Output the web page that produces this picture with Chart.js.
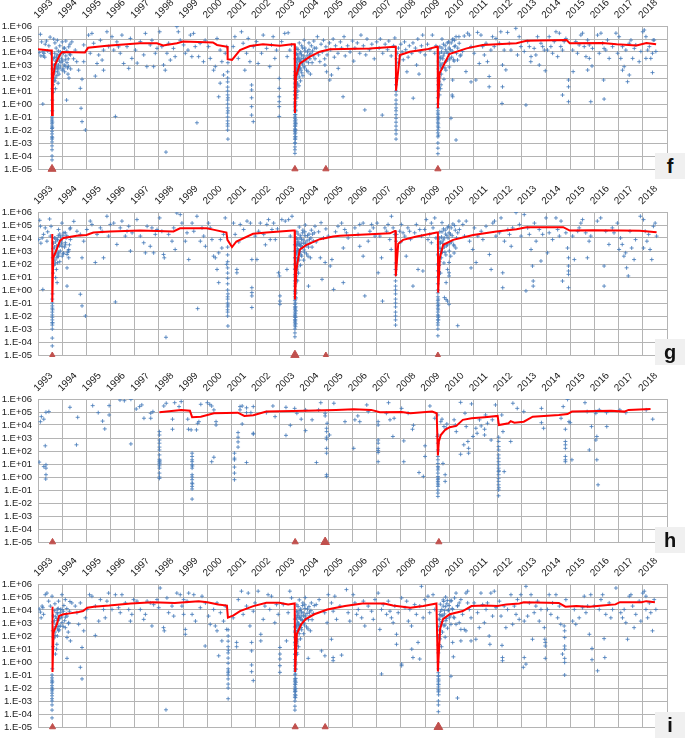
<!DOCTYPE html>
<html><head><meta charset="utf-8">
<script src="https://cdn.jsdelivr.net/npm/chart.js@4.4.1/dist/chart.umd.min.js"></script>
<style>
body{margin:0;background:#fff;width:685px;height:738px;overflow:hidden;position:relative}
canvas{position:absolute;left:0}
.tag{position:absolute;left:655px;width:30px;height:26px;background:#f0f0f0;font:bold 20px "Liberation Sans",Arial,sans-serif;text-align:center;line-height:26px;color:#111}
</style></head><body>
<canvas id="cf" width="685" height="189" style="top:-4px"></canvas>
<canvas id="cg" width="685" height="189" style="top:182px"></canvas>
<canvas id="ch" width="685" height="189" style="top:369px"></canvas>
<canvas id="ci" width="685" height="189" style="top:554px"></canvas>
<div class="tag" style="top:153px">f</div>
<div class="tag" style="top:339px">g</div>
<div class="tag" style="top:527px">h</div>
<div class="tag" style="top:712px">i</div>
<script>
const yearTicks = [1993,1994,1995,1996,1997,1998,1999,2000,2001,2002,2003,2004,2005,2006,2007,2008,2009,2010,2011,2012,2013,2014,2015,2016,2017,2018];
const decadeTicks = [1e-5,1e-4,1e-3,1e-2,1e-1,1,10,100,1e3,1e4,1e5,1e6];

// ---- panel f ----
const fLine = [[1993.0,1.6e4],[1993.5,1.3e4],[1993.57,1.3e4],[1993.58,1.4e-1],[1993.61,70],[1993.7,1e3],[1993.9,5.9e3],[1994.0,1e4],[1994.94,9.3e3],[1995.07,2.1e4],[1995.85,3e4],[1997.21,4.7e4],[1997.92,4.7e4],[1998.17,3.2e4],[1998.74,4.7e4],[1999.0,6.3e4],[2000.23,5.4e4],[2000.4,3.5e4],[2000.83,2.5e4],[2000.84,2.8e3],[2001.02,2.5e3],[2001.35,1.4e4],[2001.76,2.9e4],[2002.3,3.9e4],[2003.0,3e4],[2003.5,4e4],[2003.61,4e4],[2003.62,0.2],[2003.66,126],[2003.83,1.35e3],[2004.24,4.4e3],[2004.65,1.05e4],[2005.07,1.6e4],[2006.72,1.9e4],[2007.75,2.5e4],[2007.79,2.5e4],[2007.8,10.5],[2007.96,5.9e3],[2008.37,1.05e4],[2009.07,1.6e4],[2009.48,2.5e4],[2009.52,2.5e4],[2009.53,0.47],[2009.6,230],[2010.0,7e3],[2010.72,1.9e4],[2011.38,3.5e4],[2012.78,4.7e4],[2013.19,7.4e4],[2014.85,8.3e4],[2014.98,4.7e4],[2016.34,5e4],[2016.92,3.9e4],[2017.74,3.2e4],[2018.15,5e4],[2018.55,4e4]];
const fEvents = [1993.58,2003.62,2004.9,2009.53];
const fEventSize = [4.6,3.6,3.6,3.6];
const fPts = [[1993.1,2.3e5],[1993.15,6e4],[1993.2,1e4],[1993.22,5e3],[1993.25,8e3],[1993.2,1],[1993.3,4e4],[1993.35,7e4],[1993.4,1.2e4],[1993.45,3e4],[1993.5,1.4e5],[1993.52,8e3],[1993.05,9e3],[1993.28,4e3],[1993.12,5e3],
[1993.58,1e-1],[1993.58,7e-2],[1993.58,5e-2],[1993.58,3e-2],[1993.58,2e-2],[1993.58,1.3e-2],[1993.58,8e-3],[1993.58,5e-3],[1993.58,3e-3],[1993.58,2e-3],[1993.58,1.2e-3],[1993.58,6e-4],[1993.58,3e-4],[1993.58,1e-4],[1993.58,5e-5],[1993.59,4e-2],[1993.59,1.5e-2],[1993.59,2.5e-3],[1993.59,0.3],[1993.59,2],[1993.6,15],[1993.6,1e2],[1993.6,5e2],
[1993.62,30],[1993.63,8],[1993.65,2e2],[1993.66,5e2],[1993.68,1e3],[1993.7,3e2],[1993.7,60],[1993.72,15],[1993.73,2e3],[1993.75,8e2],[1993.76,4e3],[1993.78,1.5e2],[1993.8,6e2],[1993.82,3e3],[1993.85,1e3],[1993.87,2e2],[1993.9,5e3],[1993.92,7e2],[1993.95,1.5e3],[1994.0,4e2],[1994.02,2e3],[1994.05,8e3],[1994.08,1e3],[1994.1,3e2],[1994.15,5e3],[1994.18,2],[1994.2,1.5e3],[1994.22,6e2],[1994.25,3e3],[1994.28,1e2],[1994.3,7e3],[1994.35,5e2],[1993.65,1e5],[1993.7,5e4],[1993.75,2e4],[1993.8,8e4],[1993.9,3e4],[1994.0,6e4],[1994.1,2e4],[1994.15,7e4],[1993.68,4e3],[1993.74,1.2e3],[1993.83,40],[1993.88,6e3],[1994.12,8e2],[1994.24,2e2],
[1994.4,6e4],[1994.54,1.4e4],[1994.6,1.8e3],[1994.68,4e2],[1994.75,16],[1994.78,0.47],[1994.82,0.044],[1994.82,80],[1994.89,3.5e4],[1994.96,0.01],[1994.27,2.5e4],[1994.34,6e3],[1994.47,3e3],[1994.89,1.8e3],
[1995.09,2e5],[1995.23,2.7e5],[1995.3,4.7e4],[1995.44,1.3e3],[1995.37,1.4e2],[1995.58,8e4],[1995.71,1.4e4],[1995.71,4e2],[1995.85,3.6e5],[1995.92,2.6e4],[1995.16,8e3],[1995.51,5.9e3],[1995.65,2.4e3],
[1996.06,1.5e5],[1996.13,1.4e4],[1996.2,0.11],[1996.26,6e4],[1996.4,8e3],[1996.47,2e5],[1996.54,1.3e3],[1996.68,2.6e4],[1996.82,1.1e5],[1996.88,3.2e3],[1996.75,5.5e2],[1996.33,2.5e4],
[1997.03,1.4e4],[1997.1,1.4e3],[1997.23,6.3e4],[1997.37,6e3],[1997.5,7.5e2],[1997.64,3.5e4],[1997.71,8e4],[1997.78,7.5e2],[1997.85,8e3],[1997.92,1.9e4],[1997.44,2.7e5],
[1998.03,3.6e5],[1998.12,2.6e4],[1998.19,1e3],[1998.26,4e2],[1998.29,2e-4],[1998.33,8e3],[1998.4,4.7e4],[1998.47,2.4e3],[1998.6,1.9e4],[1998.74,9e5],[1998.8,3.6e5],[1998.88,8e4],[1998.67,4.4e3],
[1999.02,3.5e4],[1999.09,8e3],[1999.2,1.4e4],[1999.3,2e5],[1999.43,2.7e5],[1999.5,2.6e4],[1999.57,3.6e-2],[1999.64,4.4e3],[1999.7,4.7e4],[1999.84,1.8e3],[1999.91,8e4],[1999.36,4.4e3],
[2000.05,2.6e4],[2000.12,3.2e3],[2000.26,4e2],[2000.33,7.5e2],[2000.4,1.1e5],[2000.47,3.6],[2000.53,1.4e4],[2000.6,1.8e3],[2000.67,1.7e2],[2000.74,8e3],[2000.8,2.6e4],[2000.53,40],
[2000.84,3e2],[2000.84,1e2],[2000.84,50],[2000.84,20],[2000.84,10],[2000.84,5],[2000.84,2],[2000.84,1],[2000.84,0.5],[2000.84,0.2],[2000.84,0.1],[2000.84,0.05],[2000.84,0.03],[2000.84,0.02],[2000.84,0.01],[2000.85,2e-3],[2000.85,1.5e3],[2000.85,0.3],[2000.85,3],
[2001.07,2.6e4],[2001.14,1.5e5],[2001.28,3.2e3],[2001.41,3.6e5],[2001.48,4.7e4],[2001.55,4e2],[2001.62,8e3],[2001.69,1.1e5],[2001.76,1.8e3],[2001.83,29],[2001.83,12],[2001.83,0.63],[2001.83,0.14],[2001.9,0.044],[2001.9,2.6e4],[2001.83,3],
[2002.03,6.3e4],[2002.1,1.3e3],[2002.24,8e3],[2002.31,2e5],[2002.45,1.9e4],[2002.58,7.5e2],[2002.65,3.5e4],[2002.72,1.5e5],[2002.79,3.2e3],[2002.86,1.4e4],[2002.97,16],[2002.97,3.6],[2002.97,0.63],[2002.97,0.11],[2002.97,93],[2002.97,1.5],
[2003.07,6.3e4],[2003.2,2.7e5],[2003.34,3e5],[2003.41,1.4e4],[2003.3,4.4e3],[2003.48,3.5e4],
[2003.62,3e2],[2003.62,1.5e2],[2003.62,80],[2003.62,40],[2003.62,20],[2003.62,10],[2003.62,5],[2003.62,2.5],[2003.62,1.2],[2003.62,0.6],[2003.62,0.3],[2003.62,0.15],[2003.62,0.08],[2003.62,0.05],[2003.62,0.03],[2003.62,0.02],[2003.62,0.012],[2003.62,8e-3],[2003.62,5e-3],[2003.62,3e-3],[2003.62,2e-3],[2003.62,1e-3],[2003.62,5e-4],[2003.62,3e-4],[2003.62,1.6e-4],[2003.63,1e2],[2003.63,10],[2003.63,1],[2003.63,0.1],[2003.63,0.01],[2003.63,1e-3],[2003.64,8e3],[2003.65,1.5e4],[2003.64,3e3],[2003.64,0.4],[2003.64,0.04],
[2003.66,3e3],[2003.67,5e2],[2003.68,80],[2003.69,20],[2003.7,1.5e3],[2003.71,2e2],[2003.72,6e3],[2003.73,40],[2003.75,9e2],[2003.76,3e2],[2003.78,4e3],[2003.8,1.2e2],[2003.82,2e3],[2003.84,6e2],[2003.86,1e4],[2003.88,3e3],[2003.9,2.5e2],[2003.93,1.2e3],[2003.96,5e3],[2004.0,8e2],[2004.03,2e4],[2004.06,3e3],[2004.1,4e2],[2004.14,1e4],[2004.18,1.5e3],[2004.22,6e3],[2004.26,2e2],[2004.3,3e4],[2003.7,2e4],[2003.8,5e4],[2003.9,3e4],[2004.0,8e4],[2004.2,5e4],[2003.67,8],[2003.7,3],[2003.74,10],[2003.79,25],[2003.85,60],[2003.95,1.5e2],
[2005.06,70],[2005.13,1.7e2],[2005.61,3.6],[2006.51,0.35],[2007.23,0.14],[2004.65,1.8e3],[2004.93,3e2],[2004.86,1e3],[2005.41,5.5e2],
[2004.35,1.2e4],[2004.4,7e4],[2004.45,3e3],[2004.5,2e4],[2004.55,1.5e5],[2004.6,6e3],[2004.7,4e4],[2004.75,1e4],[2004.8,8e4],[2004.85,3e3],[2004.9,2.5e4],[2004.95,6e3],
[2005.05,5e4],[2005.1,1.5e4],[2005.2,1e5],[2005.25,4e3],[2005.3,3e4],[2005.4,8e3],[2005.5,6e4],[2005.55,2e4],[2005.65,1.5e5],[2005.7,5e3],[2005.8,3e4],[2005.9,1e4],
[2006.0,7e4],[2006.05,2e3],[2006.1,2e4],[2006.2,5e4],[2006.3,8e3],[2006.35,2e5],[2006.45,3e4],[2006.55,6e3],[2006.6,1e5],[2006.7,1.5e4],[2006.8,4e4],[2006.9,3e3],
[2007.0,6e4],[2007.1,2e4],[2007.15,1e5],[2007.25,8e3],[2007.35,4e4],[2007.45,1.5e4],[2007.5,7e4],[2007.6,5e3],[2007.7,3e4],[2007.75,1.2e5],
[2007.8,30],[2007.8,10],[2007.8,5],[2007.8,2],[2007.8,1],[2007.8,0.5],[2007.8,0.3],[2007.8,0.15],[2007.8,0.08],[2007.8,0.04],[2007.8,0.02],[2007.8,0.01],[2007.8,5e-3],[2007.8,2e-3],[2007.81,1e2],
[2007.82,3e3],[2007.85,8e3],[2007.88,1.5e3],[2007.9,2e4],[2007.95,5e3],[2008.0,4e4],[2008.05,1e4],[2008.1,2.5e3],[2008.15,6e4],[2008.2,1.5e4],[2008.3,4e3],[2008.35,3e4],[2008.51,2.8],[2008.45,8e3],[2008.5,5e4],[2008.6,2e4],[2008.65,1e3],[2008.7,1e5],[2008.8,1e4],[2008.85,3e4],[2008.9,2e5],[2009.0,6e3],[2009.1,4e4],[2009.2,1.5e4],[2009.3,2e5],[2009.4,8e3],[2009.45,3e4],[2008.25,3e2],[2008.75,2e2],
[2009.53,3],[2009.53,1],[2009.53,0.5],[2009.53,0.3],[2009.53,0.2],[2009.53,0.1],[2009.53,0.06],[2009.53,0.04],[2009.53,0.02],[2009.53,0.01],[2009.53,6e-3],[2009.53,3e-3],[2009.53,1e-3],[2009.53,4e-4],[2009.53,1.5e-4],[2009.54,10],[2009.54,30],[2009.54,1e2],[2009.54,0.15],[2009.54,0.03],
[2009.56,2e3],[2009.57,3e2],[2009.58,50],[2009.6,8e3],[2009.62,1e3],[2009.64,15],[2009.65,4e3],[2009.67,2e2],[2009.7,2e4],[2009.72,6e2],[2009.75,5e3],[2009.78,80],[2009.8,1.5e3],[2009.83,3e4],[2009.86,4e2],[2009.9,1e4],[2009.93,2.5e3],[2009.97,6e4],[2010.0,7e2],[2010.05,1.5e4],[2010.1,4e3],[2010.15,1e5],[2010.2,2e3],[2010.25,3e4],[2010.3,8e3],[2010.4,1.5e5],[2010.45,5e3],[2009.7,1e5],[2010.28,1.7e-3],[2010.07,0.08],[2010.14,3.6],[2010.12,4.9],[2010.14,70],[2009.6,5],[2009.66,30],
[2010.9,50],[2011.1,70],[2011.65,1.3e2],[2011.65,21],[2012.2,21],[2012.18,1.1],[2013.17,0.83],[2013.97,3.6e2],[2014.68,4.9],[2014.93,70],[2014.93,21],[2014.93,1.5],[2015.12,3.1e2],[2015.72,4.1e2],[2015.85,1.5],[2015.9,8.3e2],[2016.38,70],[2016.4,2.4],[2017.16,4e2],[2017.37,52],[2017.44,1.7e2],[2018.4,2.6e2],
[2010.28,1.5e5],[2010.41,4.7e4],[2010.62,1.7e5],[2010.76,2.8e5],[2010.83,2e5],[2010.55,1.1e4],[2010.34,2.4e3],[2010.69,3.1e2],[2010.9,2.6e4],[2010.48,5.9e3],[2010.14,8.3e4],[2010.21,2.6e4],
[2011.17,3.2e5],[2011.31,2e5],[2011.38,2.6e4],[2011.45,5.9e3],[2011.52,4.7e4],[2011.58,1.8e3],[2011.72,1.4e4],[2011.79,1.5e5],[2011.86,2.6e4],[2011.03,8e3],[2011.24,1.3e3],[2011.93,1.1e5],
[2012.13,3.6e5],[2012.27,1.4e4],[2012.41,3.2e5],[2012.48,4.7e4],[2012.55,1.4e4],[2012.75,6.6e5],[2012.82,5.9e3],[2012.89,1.5e5],[2012.2,1e3],[2012.34,4.2e2],[2012.07,4.7e4],[2012.96,2.6e4],
[2013.1,1.1e4],[2013.24,6.3e4],[2013.31,2.6e4],[2013.37,1.8e3],[2013.51,1.9e4],[2013.58,5.9e3],[2013.65,1.5e5],[2013.72,1e3],[2013.79,4.7e4],[2013.93,1.4e4],[2013.38,4.4e3],[2013.86,2.6e4],
[2014.06,1.4e4],[2014.13,1.5e5],[2014.2,2.6e4],[2014.34,6.3e4],[2014.41,3.6e5],[2014.48,4.4e3],[2014.55,2.8e5],[2014.61,2.6e4],[2014.75,6.3e4],[2014.68,1.4e4],[2014.27,8e3],[2014.82,1.1e5],
[2015.1,1.4e4],[2015.23,6.3e4],[2015.37,3.5e4],[2015.44,2e5],[2015.51,2.8e5],[2015.58,2.6e4],[2015.65,4.4e3],[2015.79,3.2e3],[2015.79,3.5e4],[2015.92,1.9e4],[2015.3,8e3],[2015.72,8.3e4],
[2016.13,2e5],[2016.27,2.8e5],[2016.34,4.7e4],[2016.47,1.4e4],[2016.61,3.2e3],[2016.75,2.6e4],[2016.89,2.8e5],[2016.96,8e3],[2016.2,8e3],[2016.54,8.3e4],[2016.4,1.9e4],
[2017.09,3.2e3],[2017.16,2.6e4],[2017.23,7.4e2],[2017.3,1.4e4],[2017.44,4.7e4],[2017.51,8.3e4],[2017.58,3.2e3],[2017.65,1.9e4],[2017.71,3.5e4],[2017.92,1.1e4],[2017.85,1.8e3],[2017.02,1.5e5],
[2018.0,3.6e5],[2018.06,4.9e5],[2018.13,1.5e5],[2018.2,1.4e4],[2018.27,2.6e4],[2018.33,3.2e3],[2018.4,8e3],[2018.47,8.3e4],[2018.54,1.1e4],[2018.43,8.3e4],[2018.13,3.2e3]];
// extra points in the dense after-shock clouds of panel f
const fDense = [[2003.65,50],[2003.66,1.2e2],[2003.67,2e3],[2003.68,4e2],[2003.69,7e3],[2003.7,6e2],[2003.71,30],[2003.72,1e3],[2003.73,3e3],[2003.74,2e2],[2003.75,1.5e4],[2003.77,7e2],[2003.79,2.5e3],[2003.81,5e2],[2003.83,8e3],[2003.85,1.8e3],[2003.87,4e2],[2003.89,6e3],[2003.91,1.5e3],[2003.94,2e4],[2003.97,3e3],[2004.01,6e2],[2004.04,1.2e4],[2004.08,2e3],[2004.12,5e3],[2004.16,3e2],[2004.2,1.5e4],[2004.24,3e3],[2004.28,8e3],[2004.33,1.5e3],[2004.38,5e3],[2004.42,2e4],[2003.66,15],[2003.69,5],
[2003.64,2e2],[2003.64,30],[2003.64,5],[2003.64,1.5],[2003.64,0.15],[2003.64,0.02],[2003.64,6e-3],[2003.64,2e-3],[2003.65,0.8],[2003.65,0.06],[2003.65,0.01],[2003.65,3e-3],[2003.66,0.3],[2003.66,0.03],
[2009.55,5e2],[2009.56,60],[2009.57,1.5e3],[2009.58,4e3],[2009.59,2e2],[2009.61,2.5e4],[2009.63,3e3],[2009.65,7e2],[2009.68,1e4],[2009.7,1.2e3],[2009.73,3e3],[2009.76,4e4],[2009.79,8e3],[2009.82,6e2],[2009.85,1.5e4],[2009.88,2e3],[2009.92,5e4],[2009.95,8e3],[2009.99,2e4],[2010.03,3e3],[2010.08,5e4],[2010.12,1.2e4],[2010.18,2.5e3],[2010.22,8e4],[2010.35,2e4],[2009.57,20],[2009.6,120],[2009.55,0.08],[2009.55,0.015],[2009.55,4e-3],
[1993.61,2e2],[1993.62,1e3],[1993.64,3e3],[1993.66,60],[1993.69,8e3],[1993.71,1e2],[1993.74,5e2],[1993.77,2e3],[1993.79,6e3],[1993.81,3e2],[1993.84,1.2e4],[1993.86,5e2],[1993.89,2e3],[1993.93,1e4],[1993.97,3e3],[1994.04,5e2],[1994.07,2e4],[1994.13,2.5e3],[1994.19,1.2e4],[1994.26,8e2],[1994.32,4e4]];

// ---- panel g ----
const gLine = [[1993.59,2e4],[1993.59,0.12],[1993.63,290],[1993.77,1.26e3],[1993.91,6.3e3],[1994.05,1e4],[1994.6,1.5e4],[1995.0,1.7e4],[1995.29,2.6e4],[1995.98,3.2e4],[1997.22,3.7e4],[1998.6,3.2e4],[1998.87,5.6e4],[1999.97,5.6e4],[2000.24,4.4e4],[2000.79,2.6e4],[2000.83,7.2e3],[2001.02,2e3],[2001.2,5.4e3],[2001.89,2.1e4],[2002.44,2.6e4],[2002.99,3.2e4],[2003.54,3.7e4],[2003.61,3.7e4],[2003.62,0.19],[2003.68,37],[2003.82,1.26e3],[2004.1,3e3],[2004.65,8.1e3],[2005.2,1.3e4],[2005.48,1.5e4],[2007.55,2.3e4],[2007.75,3.5e4],[2007.78,3.5e4],[2007.79,11.5],[2007.89,3.6e3],[2008.09,7.2e3],[2008.65,1.3e4],[2009.48,2.6e4],[2009.53,2.6e4],[2009.54,0.63],[2009.61,290],[2009.75,3e3],[2010.16,7.2e3],[2010.99,1.7e4],[2011.95,3.2e4],[2012.78,4.8e4],[2013.19,6.8e4],[2014.71,6.8e4],[2014.98,3.7e4],[2015.95,4e4],[2017.05,3.7e4],[2017.88,3.6e4],[2018.57,2.8e4]];
const gEvents = [1993.59,2003.62,2004.9,2009.53];
const gEventSize = [3,4.8,3,3];
const gPts = [[1993.07,2.3e5],[1993.03,7.6e3],[1993.17,1e4],[1993.2,1.1],[1993.3,6e4],[1993.37,5.7e3],[1993.48,2.9e5],[1993.51,1.4e4],[1993.54,7.9e4],[1993.1,8e4],[1993.23,1.9e4],[1993.12,4e3],[1993.4,3e4],
[1993.59,0.2],[1993.59,0.1],[1993.59,0.06],[1993.59,0.04],[1993.59,0.02],[1993.59,0.012],[1993.59,8e-3],[1993.59,5e-3],[1993.59,3e-3],[1993.59,2e-3],[1993.59,1e-3],[1993.59,2e-4],[1993.59,5e-5],[1993.6,0.5],[1993.6,3e-3],[1993.6,0.03],
[1993.79,3.7],[1993.73,9],[1993.76,38],[1993.81,1.25e2],[1993.85,4e2],[1993.92,1e3],[1993.99,2.3e3],[1994.06,7e2],[1994.13,4.3e3],[1994.2,5.4e2],[1994.27,1.3e3],[1994.34,7.6e3],[1994.2,50],[1994.2,2],[1994.27,3e2],[1993.85,4.5e4],[1993.99,1.4e5],[1994.13,2.5e4],[1994.34,6e4],[1994.48,1.9e5],
[1993.62,20],[1993.64,1e2],[1993.66,6e2],[1993.68,2e3],[1993.7,2e2],[1993.72,5e3],[1993.75,1.2e3],[1993.78,3e2],[1993.8,8e3],[1993.83,8e2],[1993.87,3e3],[1993.9,1.5e2],[1993.95,6e3],[1994.0,4e2],[1994.03,1.5e4],[1994.1,2e3],[1994.16,1e4],[1994.23,8e2],[1994.3,3e3],[1993.7,1e4],[1993.9,2e4],
[1994.61,3.3e4],[1994.75,1.9e4],[1994.82,3e2],[1994.82,0.06],[1994.96,0.01],[1994.75,0.47],[1994.89,5.7e3],[1995.02,4.5e4],[1995.16,2e5],[1995.23,1.1e5],[1995.37,1.3e2],[1995.44,1.9e4],[1995.58,6e4],[1995.65,3.3e4],[1995.71,3e2],[1995.85,4.7e5],[1995.92,1.4e4],[1995.99,1.1e5],
[1996.13,1.4e5],[1996.2,0.12],[1996.26,3.2e3],[1996.4,6e4],[1996.47,2e5],[1996.61,1.4e4],[1996.68,3.3e4],[1996.82,1e3],[1996.89,2.5e4],[1996.75,8e4],
[1997.09,2.6e5],[1997.23,1.4e4],[1997.37,4.3e3],[1997.51,8e4],[1997.64,2.3e3],[1997.71,6e4],[1997.78,7.2e2],[1997.85,1.9e4],[1997.92,4.5e4],[1997.44,7.2e2],
[1998.03,3.5e5],[1998.12,3.3e4],[1998.19,5.4e2],[1998.22,3e2],[1998.29,2.3e-4],[1998.4,1.9e4],[1998.54,5.7e3],[1998.61,6e4],[1998.74,8.3e5],[1998.88,6.3e5],[1998.95,1.4e5],[1998.67,1.3e3],
[1999.09,5.7e3],[1999.16,2.5e4],[1999.23,2.2e2],[1999.37,1.4e5],[1999.44,3.3e4],[1999.57,4.7e5],[1999.6,0.037],[1999.71,5.7e3],[1999.85,1.4e4],[1999.92,2.3e3],[1999.78,6e4],
[2000.05,1.4e5],[2000.12,6e4],[2000.19,7.6e3],[2000.26,4e2],[2000.33,3e2],[2000.4,38],[2000.47,3.7],[2000.54,7.6e3],[2000.6,1.7e3],[2000.67,1.9e4],[2000.74,3.5e5],[2000.8,93],[2000.47,7.2e2],
[2000.84,2e3],[2000.84,5e2],[2000.84,1.5e2],[2000.84,50],[2000.84,20],[2000.84,8],[2000.84,3],[2000.84,1],[2000.84,0.3],[2000.84,0.2],[2000.84,0.1],[2000.84,0.05],[2000.84,0.03],[2000.84,0.02],[2000.84,0.01],[2000.85,1.7e-3],[2000.85,0.07],[2000.85,0.5],
[2001.08,1.4e5],[2001.15,1.9e4],[2001.22,38],[2001.22,21],[2001.36,1.1e5],[2001.5,4.5e4],[2001.64,2e5],[2001.78,1.4e5],[2001.84,2.2e2],[2001.84,1.5],[2001.84,0.35],[2001.84,0.045],[2001.84,0.63],[2001.98,1.4e4],[2002.05,2.2e2],[2002.12,3.3e4],[2002.19,1.4e5],[2002.33,1.9e4],[2002.46,1.1e5],[2002.53,2.6e5],[2002.6,7.6e3],[2002.67,4.5e4],[2002.74,1.4e5],[2002.81,7.6e3],[2002.94,21],[2002.98,12],[2003.0,0.35],[2003.0,0.14],[2003.0,0.08],[2003.08,2.6e5],[2003.22,2e5],[2003.29,38],[2003.36,2.6e5],[2003.5,4.7e5],[2003.43,1.4e4],[2001.3,5e3],[2002.4,3e3],[2002.9,5e4],
[2003.62,3e3],[2003.62,1e3],[2003.62,3e2],[2003.62,1e2],[2003.62,40],[2003.62,15],[2003.62,5],[2003.62,2],[2003.62,0.8],[2003.62,0.3],[2003.62,0.15],[2003.62,0.08],[2003.62,0.05],[2003.62,0.03],[2003.62,0.02],[2003.62,0.012],[2003.62,8e-3],[2003.62,5e-3],[2003.62,3e-3],[2003.62,2e-3],[2003.62,1e-3],[2003.62,5e-4],[2003.62,2.5e-4],[2003.63,0.5],[2003.63,0.04],[2003.63,4e-3],[2003.63,1e-2],[2003.64,10],[2003.64,0.2],
[2003.66,5e3],[2003.67,8e2],[2003.68,1.2e2],[2003.69,30],[2003.7,2.5e3],[2003.71,3e2],[2003.72,8e3],[2003.73,60],[2003.75,1.2e3],[2003.76,5e2],[2003.78,5e3],[2003.8,2e2],[2003.82,3e3],[2003.84,9e2],[2003.86,1.5e4],[2003.88,4e3],[2003.9,4e2],[2003.93,2e3],[2003.96,7e3],[2004.0,1.2e3],[2004.03,3e4],[2004.06,4e3],[2004.1,6e2],[2004.14,1.5e4],[2004.18,2e3],[2004.22,8e3],[2004.26,3e2],[2004.3,4e4],[2003.7,3e4],[2003.8,7e4],[2003.95,4e4],[2004.05,1e5],[2004.18,2],[2004.67,3e2],[2004.74,6.6],[2004.87,1.3e2],[2005.08,70],[2005.22,1.1],[2005.15,2.2e2],[2005.0,1.4e4],[2003.68,12],[2003.72,5],[2003.77,20],[2003.85,80],[2003.98,2e2],
[2004.35,2e4],[2004.45,8e4],[2004.5,5e3],[2004.6,3e4],[2004.7,1.5e5],[2004.8,1e4],[2004.9,5e4],[2005.3,3e4],[2005.4,8e4],[2005.55,1.4e5],[2005.62,1.7e3],[2005.68,4.5e4],[2005.62,3.7],[2005.75,2.5e4],[2005.82,1e4],
[2006.1,6e4],[2006.23,1.9e4],[2006.3,1.1e5],[2006.44,1.4e5],[2006.51,0.35],[2006.65,5.7e3],[2006.72,3.3e4],[2006.86,6e4],[2006.93,1.4e4],[2006.44,4e2],[2006.3,2.3e3],[2006.79,1.1e5],
[2007.02,1.4e5],[2007.06,21],[2007.13,1.4e4],[2007.2,3e2],[2007.24,0.14],[2007.34,6e4],[2007.41,3.3e4],[2007.47,1.1e5],[2007.54,7.6e3],[2007.6,1.3e3],[2007.61,4.7e5],[2007.68,6e4],[2007.75,1.9e4],
[2007.78,38],[2007.78,15],[2007.78,5],[2007.78,2],[2007.78,1],[2007.78,0.5],[2007.78,0.2],[2007.78,0.1],[2007.78,0.05],[2007.78,0.02],[2007.78,0.01],[2007.78,5e-3],[2007.78,2e-3],[2007.8,5.7e3],[2007.82,1.9e4],[2007.79,1.2e2],
[2007.95,3.3e4],[2008.02,1.1e5],[2008.09,2.5e4],[2008.16,1.4e4],[2008.22,4e2],[2008.29,6e4],[2008.36,3.3e4],[2008.5,2],[2008.57,2.5e4],[2008.64,1.1e5],[2008.71,38],[2008.78,4.5e4],[2008.85,1.4e4],[2008.91,29],[2008.98,4.5e4],[2009.05,2.6e5],[2009.12,7.6e3],[2009.19,1.9e4],[2009.26,4.3e3],[2009.4,3.5e5],[2009.33,6e4],[2009.26,1.4e5],[2008.0,5e3],[2008.4,8e3],[2009.45,1e4],
[2009.53,5e2],[2009.53,1e2],[2009.53,30],[2009.53,10],[2009.53,3],[2009.53,1],[2009.53,0.6],[2009.53,0.3],[2009.53,0.15],[2009.53,0.1],[2009.53,0.06],[2009.53,0.04],[2009.53,0.02],[2009.53,0.012],[2009.53,5e-3],[2009.53,3e-3],[2009.53,2e-3],[2009.53,1e-3],[2009.53,3e-4],[2009.54,0.2],[2009.54,0.03],[2009.54,8e-3],
[2009.56,3e3],[2009.57,4e2],[2009.58,80],[2009.6,1e4],[2009.62,1.5e3],[2009.64,20],[2009.65,5e3],[2009.67,3e2],[2009.7,3e4],[2009.72,8e2],[2009.75,7e3],[2009.78,1.2e2],[2009.8,2e3],[2009.83,4e4],[2009.86,5e2],[2009.9,1.5e4],[2009.93,3e3],[2009.97,8e4],[2010.0,1e3],[2010.05,2e4],[2010.1,5e3],[2010.15,1.2e5],[2010.2,2.5e3],[2010.25,4e4],[2010.3,1e4],[2010.4,2e5],[2009.8,0.26],[2009.87,0.19],[2009.93,0.14],[2009.99,0.08],[2009.87,3.7],[2009.93,38],[2009.99,21],[2009.99,12],[2010.35,1.8e-3],[2009.99,1.3e2],[2010.06,4e2],[2010.2,7e2],[2010.27,1.7e3],[2009.7,1.5e5],
[2010.42,4.5e4],[2010.56,1.1e5],[2010.63,1.4e4],[2010.7,2e5],[2010.84,5.7e3],[2010.9,50],[2010.97,1.3e3],[2011.04,6e4],[2011.11,1.3e2],[2011.18,1.4e4],[2011.32,3.3e4],[2011.39,7.6e3],[2011.52,8e4],[2011.66,5.4e2],[2011.73,38],[2011.8,1.4e5],[2011.87,2e5],[2011.93,1.4e4],
[2012.07,2.5e4],[2012.14,3.5e5],[2012.21,21],[2012.21,1.5],[2012.28,5.7e3],[2012.42,4.5e4],[2012.49,1.9e4],[2012.56,2.3e3],[2012.62,6e4],[2012.76,9e5],[2012.9,1.1e5],[2012.97,1.4e4],
[2013.1,6.3e5],[2013.17,0.85],[2013.24,6e4],[2013.31,1.9e4],[2013.38,1.3e3],[2013.44,70],[2013.47,4.9],[2013.47,2],[2013.52,1.4e5],[2013.59,5.7e3],[2013.72,4.5e4],[2013.79,1.7e2],[2013.86,1.9e4],[2014.0,3.5e5],
[2014.06,7.2e2],[2014.13,2.5e4],[2014.27,7.6e3],[2014.41,3.5e5],[2014.48,4.5e4],[2014.55,1.4e4],[2014.62,2e5],[2014.68,4.9],[2014.82,2.5e4],[2014.89,1.7e3],[2014.93,3e2],[2014.93,70],[2014.93,29],[2014.93,16],[2014.93,1.5],
[2015.1,1.4e4],[2015.17,2.2e2],[2015.31,3.3e4],[2015.37,6e4],[2015.44,1.4e5],[2015.51,2.6e5],[2015.71,3e2],[2015.78,5.7e3],[2015.85,1.4e4],[2015.64,2.5e4],
[2016.12,2e5],[2016.26,3.5e5],[2016.4,70],[2016.4,2],[2016.47,3.3e4],[2016.6,3.2e3],[2016.74,6e4],[2016.81,2.5e4],
[2016.95,1.4e5],[2017.08,1e4],[2017.15,3.2e3],[2017.22,4e2],[2017.29,7.2e2],[2017.33,51],[2017.4,12],[2017.47,3.3e4],[2017.54,1.7e3],[2017.64,2.2e2],[2017.7,7.6e3],[2017.02,1.3e3],
[2017.9,4.7e5],[2018.03,2.6e5],[2018.1,3.3e4],[2018.17,5.7e3],[2018.24,1.9e4],[2018.37,2.2e2],[2018.44,8e4],[2018.51,1.4e5],[2018.57,1.4e4],[2018.03,1.7e3],[2018.3,1.3e3]];
const gDense = [[2003.65,80],[2003.66,2e2],[2003.67,3e3],[2003.68,6e2],[2003.69,1e4],[2003.7,9e2],[2003.71,40],[2003.72,1.5e3],[2003.73,4e3],[2003.74,3e2],[2003.75,2e4],[2003.77,1e3],[2003.79,3e3],[2003.81,7e2],[2003.83,1e4],[2003.85,2.5e3],[2003.87,5e2],[2003.89,8e3],[2003.91,2e3],[2003.94,2.5e4],[2003.97,4e3],[2004.01,8e2],[2004.04,1.5e4],[2004.08,2.5e3],[2004.12,6e3],[2004.16,4e2],[2004.2,2e4],[2004.24,4e3],[2004.28,1e4],[2004.33,2e3],[2004.38,6e3],[2004.42,2.5e4],[2003.66,20],[2003.69,6],
[2003.64,3e2],[2003.64,40],[2003.64,3],[2003.64,1],[2003.64,0.1],[2003.64,0.015],[2003.64,5e-3],[2003.64,1.5e-3],[2003.65,0.6],[2003.65,0.05],[2003.65,8e-3],[2003.65,2.5e-3],[2003.66,0.25],[2003.66,0.025],
[2009.55,6e2],[2009.56,80],[2009.57,2e3],[2009.58,5e3],[2009.59,3e2],[2009.61,3e4],[2009.63,4e3],[2009.65,9e2],[2009.68,1.2e4],[2009.7,1.5e3],[2009.73,4e3],[2009.76,5e4],[2009.79,1e4],[2009.82,8e2],[2009.85,2e4],[2009.88,2.5e3],[2009.92,6e4],[2009.95,1e4],[2009.99,2.5e4],[2010.03,4e3],[2010.08,6e4],[2010.12,1.5e4],[2010.18,3e3],[2010.22,9e4],[2010.35,2.5e4],[2009.57,25],[2009.6,150],[2009.55,0.07],[2009.55,0.01],[2009.55,5e-3],
[1993.61,3e2],[1993.62,1.5e3],[1993.64,4e3],[1993.66,80],[1993.69,1e4],[1993.71,1.2e2],[1993.74,6e2],[1993.77,2.5e3],[1993.79,7e3],[1993.81,4e2],[1993.84,1.5e4],[1993.86,6e2],[1993.89,2.5e3],[1993.93,1.2e4],[1993.97,4e3],[1994.04,6e2],[1994.07,2.5e4],[1994.13,3e3],[1994.19,1.5e4],[1994.26,1e3],[1994.32,5e4]];

// ---- panel h ----
const hLine = [[1998.02,9.5e4],[1998.92,1.45e5],[1999.28,1.26e5],[1999.37,4e4],[1999.73,4.4e4],[2000.27,8e4],[2001.26,8.9e4],[2001.53,5e4],[2001.9,5.6e4],[2002.44,1.07e5],[2004.06,1.26e5],[2005.32,1.45e5],[2006.05,1.6e5],[2006.77,1.45e5],[2007.13,9.5e4],[2008.03,1e5],[2008.39,8e4],[2009.29,1.07e5],[2009.48,8e4],[2009.53,45],[2009.57,540],[2009.65,1.7e3],[2009.83,4.2e3],[2010.02,6.8e3],[2010.29,8.5e3],[2010.56,2.5e4],[2010.92,3.3e4],[2011.46,4e4],[2012.0,5e4],[2012.05,1e4],[2012.45,1.35e4],[2012.54,2e4],[2012.69,1.5e4],[2013.08,1.8e4],[2013.45,4.4e4],[2014.53,5.9e4],[2014.89,7e4],[2015.07,1.07e5],[2016.69,1.26e5],[2017.24,1.07e5],[2017.41,1.45e5],[2018.32,1.7e5]];
const hEvents = [1993.6,2003.63,2004.87,2009.57];
const hEventSize = [3.6,3.6,5,3.6];
const hPts = [[1993.05,14],[1993.14,4.4e4],[1993.1,1.8e4],[1993.24,2.8e4],[1993.33,9.5e4],[1993.45,1.07e5],[1993.3,2.5e2],[1993.33,8.7],[1993.33,4.8],[1993.33,1.5],[1993.32,0.7],[1993.24,6.3],
[1994.32,2.3e5],[1994.64,3.9e4],[1994.59,3e2],[1995.26,3.1e5],[1995.49,8.9e4],[1995.67,2e4],[1995.76,5e3],
[1995.94,3.1e5],[1995.94,5.9e4],[1996.39,8.3e5],[1996.57,7.4e5],[1996.84,9.5e5],[1996.84,3.5e2],
[1997.06,1.7e5],[1997.2,2.6e5],[1997.29,3.5e5],[1997.38,3.3e4],[1997.66,3.3e4],[1997.66,8e4],[1997.75,1.07e5],
[1998.02,3.1e3],[1998.02,1.7e3],[1998.02,7e2],[1998.02,4e2],[1998.02,2e2],[1998.02,1.2e2],[1998.02,50],[1998.02,23],[1998.02,15],[1998.02,10],[1998.02,7.2],[1998.02,4.8],[1998.02,2],[1998.02,1],[1998.02,0.78],[1998.03,18],[1998.03,12],
[1998.2,2.9e5],[1998.3,4.7e5],[1998.56,2.8e4],[1998.56,4.7e3],[1998.65,5.2e5],[1998.92,6.3e5],[1998.83,2.6e5],
[1999.37,68],[1999.37,38],[1999.37,21],[1999.37,15],[1999.37,8.7],[1999.37,4.8],[1999.37,1.5],[1999.37,1],[1999.37,0.62],[1999.37,0.34],[1999.37,0.19],[1999.37,0.12],[1999.37,0.02],[1999.38,7],[1999.38,0.3],
[1999.19,2.8e4],[1999.22,4.7e3],[1999.33,4.2e3],[1999.55,4.2e3],[1999.6,1.35e4],[1999.65,1.8e4],
[1999.73,3.9e5],[2000.0,5.2e5],[2000.1,3.9e5],[2000.18,2.9e5],[2000.27,1.45e5],[2000.36,1.8e4],[2000.36,1e4],[2000.27,33],[2000.18,15],
[2001.12,68],[2001.12,28],[2001.12,21],[2001.12,5.8],[2001.12,2],[2001.12,0.62],[2001.27,2.6e3],[2001.27,1.15e3],[2001.27,5e2],[2001.27,2e2],[2001.35,1.45e5],[2001.35,2.6e5],[2001.44,2.9e5],[2001.44,1.2e4],[2001.62,2.1e5],[2001.62,8.9e4],[2001.62,13],[2001.9,2.3e3],[2001.9,2e3],[2001.9,2.6e5],[2001.8,8.9e4],
[2002.71,2.9e5],[2002.8,4.4e4],[2002.44,8.9e4],
[2003.25,2.3e5],[2003.43,9.5e3],[2003.25,1.6e3],[2003.61,1.9e5],[2003.7,8e4],[2003.88,2.8e4],[2004.06,3.7e3],[2004.06,1.45e5],[2004.33,2.5e4],
[2004.51,13],[2004.69,5.2e5],[2004.6,1.45e5],[2004.87,8e4],[2004.87,5e4],
[2004.93,5.6e3],[2004.93,3.1e3],[2004.93,1.15e3],[2004.93,8e2],[2004.93,1.6e2],[2004.93,68],[2004.93,1.5],[2004.93,1.1],[2005.05,1.7e3],[2004.95,1.35e4],
[2005.23,4.7e5],[2005.69,1.8e4],[2006.1,2.5e4],[2006.05,1.6e2],[2006.22,5e4],[2006.3,1.8e4],[2006.59,3.5e5],[2006.65,1.07e5],
[2007.06,7e2],[2007.06,4e2],[2007.06,1.6e2],[2007.06,1.1e2],[2007.06,76],[2007.06,15],[2007.06,1e4],[2007.06,1.8e4],
[2007.49,5.2e5],[2007.4,8e4],[2007.55,2.5e4],[2007.67,1.3e3],[2007.72,3.3e4],[2008.03,1.9e5],[2008.12,6e2],[2008.12,15],[2008.3,8e4],[2008.48,4.7e3],[2008.52,9.5e3],[2008.75,2.2],[2008.93,1.1],[2009.0,2.5e2],[2009.0,38],[2009.2,2.9e5],[2009.4,3.3e4],
[2009.53,1.7e3],[2009.53,4e2],[2009.53,1.2e2],[2009.53,38],[2009.53,21],[2009.53,11],[2009.53,6.5],[2009.53,3.5],[2009.53,2],[2009.53,1.1],[2009.53,0.62],[2009.53,0.46],[2009.53,0.34],[2009.53,0.19],[2009.53,0.1],[2009.53,0.058],[2009.53,0.032],[2009.52,5.9e4],[2009.51,1.3e3],[2009.54,5],[2009.54,0.8],[2009.54,0.25],
[2009.65,1.8e4],[2009.7,2.8e4],[2009.74,11],[2009.78,7.6e3],[2009.83,1.5],[2009.83,0.46],[2009.88,5.6e3],[2009.9,1.2e4],[2010.2,2.5e4],[2010.29,3.1e3],[2010.25,9.8e3],[2010.47,5.5e5],[2010.47,56],[2010.65,8e4],[2010.6,3e2],[2010.7,7.6e3],[2010.77,5.4e2],[2010.8,1.6e2],[2010.8,68],[2010.92,4.2e5],[2010.98,1.3e3],[2011.1,5.6e3],[2011.15,2.3e3],[2011.25,2.5e4],[2011.32,8.5e3],[2011.46,4.7e3],[2011.46,1.7e3],[2011.5,5.9e4],[2011.58,1.35e4],[2011.73,7e2],[2011.78,2.5e4],[2011.91,3.5e5],
[2012.04,1.15e3],[2012.04,5.4e2],[2012.04,2.2e2],[2012.04,1.2e2],[2012.04,50],[2012.04,28],[2012.04,15],[2012.04,8.7],[2012.04,4.8],[2012.04,2.6],[2012.04,1.5],[2012.04,0.8],[2012.04,0.46],[2012.04,0.25],[2012.04,0.1],[2012.04,0.036],[2012.05,3],[2012.05,0.15],
[2012.17,5.9e4],[2012.22,3.1e3],[2012.27,2.6],[2012.54,5.4e2],[2012.63,4.7e5],[2012.81,1.9e5],[2013.08,1.07e5],[2013.81,1.9e5],[2013.81,1.5e4],[2013.9,5.6e3],[2014.62,3.3e4],[2014.71,2.6e5],
[2014.8,4.7e3],[2014.8,5.4e2],[2014.8,3e2],[2014.8,1.6e2],[2014.8,38],[2014.8,21],[2014.8,15],
[2014.89,9.3e5],[2014.95,1.8e4],[2015.0,1.5e4],[2015.07,21],[2015.61,5.2e5],[2015.7,1.07e5],[2015.79,1.2e2],[2015.88,7.6e3],[2016.06,1.07e5],[2016.06,8e4],[2016.06,7e2],[2016.1,1.3e3],[2016.1,21],[2016.15,0.25],[2016.2,1.45e5],[2016.5,8.9e4],[2016.51,7.6e3],[2017.05,1.45e5],[2017.3,8.9e4],[2018.14,1.45e5],[2018.41,2.8e4]];

// ---- panel i ----
const iLine = [[1993.6,1.8e4],[1993.6,0.17],[1993.64,190],[1993.78,790],[1993.87,3.5e3],[1994.05,4.7e3],[1994.32,5.5e3],[1994.68,7e3],[1994.86,8.3e3],[1995.04,1.5e4],[1995.31,1.8e4],[1995.94,2.2e4],[1996.84,3.2e4],[1997.74,4e4],[1998.65,3.5e4],[1999.64,4.8e4],[2000.0,4e4],[2000.45,2.7e4],[2000.81,2.2e4],[2000.85,2.6e3],[2001.08,3.9e3],[2001.35,8.3e3],[2001.9,2e4],[2002.44,3.6e4],[2002.98,3.6e4],[2003.34,2.7e4],[2003.61,3.2e4],[2003.63,0.17],[2003.7,140],[2003.88,790],[2004.06,1.95e3],[2004.42,4.7e3],[2004.96,1.1e4],[2005.69,2e4],[2006.41,3.2e4],[2007.31,3.2e4],[2007.67,2.2e4],[2008.39,1.5e4],[2008.93,2e4],[2009.47,3.2e4],[2009.53,0.19],[2009.62,340],[2009.74,1.95e3],[2010.02,4.7e3],[2010.56,8.3e3],[2010.92,2e4],[2011.46,2.2e4],[2012.0,2e4],[2012.36,2.7e4],[2012.9,3.2e4],[2013.08,4e4],[2014.53,3.5e4],[2014.8,1.8e4],[2015.25,2e4],[2015.79,1.8e4],[2016.33,2.2e4],[2016.87,2.7e4],[2017.05,4e4],[2017.95,4e4],[2018.14,4.8e4],[2018.5,4e4]];
const iEvents = [1993.6,2003.63,2004.87,2009.55];
const iEventSize = [3.5,3.5,3.5,5];
const iPts = [[1993.1,6.9e3],[1993.17,2e4],[1993.2,1.5e4],[1993.23,4.6e3],[1993.3,1.5e5],[1993.37,2e5],[1993.44,4.8e4],[1993.51,2e4],[1993.58,1.15e5],[1993.13,2.5e3],[1993.05,1.2e4],
[1993.58,0.1],[1993.58,0.06],[1993.58,0.04],[1993.58,0.025],[1993.58,0.015],[1993.58,0.01],[1993.58,6e-3],[1993.58,4e-3],[1993.58,2.5e-3],[1993.58,1.5e-3],[1993.58,1e-3],[1993.58,5e-4],[1993.58,2e-4],[1993.58,5e-5],[1993.59,0.03],[1993.59,8e-3],[1993.59,0.3],
[1993.72,4.1],[1993.76,9.8],[1993.78,23],[1993.8,1e2],[1993.85,2.5e2],[1993.92,5.9e2],[1993.99,1.05e3],[1994.13,4.4e2],[1994.2,76],[1994.27,1.05e3],[1994.34,42],[1994.2,1.9],[1993.92,6.2e3],[1993.99,1.1e4],[1994.2,3.4e3],[1994.4,3.5e4],[1993.85,4.8e4],[1993.99,1.5e5],[1994.13,6.3e4],
[1993.62,15],[1993.64,80],[1993.66,4e2],[1993.68,1.5e3],[1993.7,2e2],[1993.73,3e3],[1993.75,8e2],[1993.8,5e3],[1993.83,1.5e3],[1993.88,3e2],[1993.95,2.5e3],[1994.05,8e3],[1994.1,1.5e3],[1994.17,5e3],[1994.25,2e2],[1994.3,8e3],[1993.7,3e4],[1993.8,1.2e4],
[1994.54,2e4],[1994.61,6.2e3],[1994.68,7.9e2],[1994.75,0.39],[1994.82,0.05],[1994.82,13],[1994.89,2.5e2],[1994.75,3.5e4],[1994.96,2.5e3],[1995.02,1.1e4],
[1995.13,1.5e5],[1995.23,1.15e5],[1995.37,2e4],[1995.37,1.1e2],[1995.51,1.4e3],[1995.58,6.3e4],[1995.71,1.1e4],[1995.85,4.8e4],[1995.92,2e5],[1995.78,2.5e3],
[1996.06,1.1e4],[1996.2,1.5e5],[1996.33,1.5e4],[1996.4,6.2e3],[1996.47,1.5e5],[1996.61,3.5e4],[1996.75,1.1e4],[1996.82,1.4e3],[1996.88,4.6e3],[1996.95,6.3e4],
[1997.09,4.8e4],[1997.23,1.1e4],[1997.37,1.9e3],[1997.44,4.6e3],[1997.51,4.8e4],[1997.64,3.5e4],[1997.71,5.9e2],[1997.78,2.6e4],[1997.92,6.3e4],[1997.99,1.5e4],
[1998.05,4.9e5],[1998.19,4.4e2],[1998.22,2.5e2],[1998.29,2.1e-4],[1998.33,8.5e4],[1998.4,6.2e3],[1998.54,2e4],[1998.61,3.4e3],[1998.74,2e5],[1998.88,1.5e5],[1998.95,2e4],[1999.02,6.3e4],
[1999.02,4.6e3],[1999.09,3.2e2],[1999.09,1.35e2],[1999.16,4.8e4],[1999.23,2e5],[1999.37,4.6e3],[1999.44,1.5e5],[1999.51,1.4e3],[1999.71,1.5e4],[1999.78,1.15e5],[1999.92,3.5e4],[1999.91,17],
[2000.05,3.4e3],[2000.12,7.9e2],[2000.26,1.1e4],[2000.33,5.9e2],[2000.4,2.5e2],[2000.47,3],[2000.54,6.2e3],[2000.6,42],[2000.67,1.4e3],[2000.74,2e4],[2000.8,3.2e2],[2000.4,3.5e4],
[2000.86,3e2],[2000.86,1e2],[2000.86,40],[2000.86,15],[2000.86,5],[2000.86,2],[2000.86,0.8],[2000.86,0.3],[2000.86,0.15],[2000.86,0.1],[2000.86,0.05],[2000.86,0.02],[2000.86,0.01],[2000.86,1.5e-3],[2000.87,0.2],[2000.87,8],
[2001.07,2.5e3],[2001.21,32],[2001.21,15],[2001.28,6.3e4],[2001.41,2.8e5],[2001.48,4.6e3],[2001.62,2e4],[2001.69,2e5],[2001.76,5.9e2],[2001.83,32],[2001.83,7.2],[2001.83,0.59],[2001.83,0.18],[2001.9,0.037],[2001.9,8.1e3],[2001.97,3.5e4],
[2002.1,2.8e5],[2002.21,42],[2002.21,1.35e2],[2002.31,1.9e3],[2002.38,2e4],[2002.51,1.5e5],[2002.58,1.1e4],[2002.65,1.15e5],[2002.79,1.05e3],[2002.86,2.6e4],[2002.93,4.6e3],
[2003.0,4.1],[2003.0,1.7],[2003.0,0.52],[2003.0,0.16],[2003.0,13],[2003.14,2.6e4],[2003.27,42],[2003.41,2.8e5],[2003.48,8.5e4],[2003.34,6.2e3],
[2003.62,2e3],[2003.62,5e2],[2003.62,2e2],[2003.62,80],[2003.62,30],[2003.62,10],[2003.62,4],[2003.62,1.5],[2003.62,0.5],[2003.62,0.2],[2003.62,0.1],[2003.62,0.05],[2003.62,0.03],[2003.62,0.02],[2003.62,0.012],[2003.62,8e-3],[2003.62,5e-3],[2003.62,3e-3],[2003.62,2e-3],[2003.62,1e-3],[2003.62,4e-4],[2003.62,2e-4],[2003.63,0.3],[2003.63,0.04],[2003.63,6e-3],[2003.64,20],[2003.64,1],
[2003.66,4e3],[2003.67,6e2],[2003.68,1e2],[2003.69,25],[2003.7,2e3],[2003.71,2.5e2],[2003.72,7e3],[2003.73,50],[2003.75,1e3],[2003.76,4e2],[2003.78,5e3],[2003.8,1.5e2],[2003.82,2.5e3],[2003.84,7e2],[2003.86,1.2e4],[2003.88,3.5e3],[2003.9,3e2],[2003.93,1.5e3],[2003.96,6e3],[2004.0,1e3],[2004.03,2.5e4],[2004.06,3.5e3],[2004.1,5e2],[2004.14,1.2e4],[2004.17,1.9],[2004.18,1.8e3],[2004.22,7e3],[2004.26,2.5e2],[2004.3,3.5e4],[2003.7,2.5e4],[2003.8,6e4],[2003.95,3.5e4],[2004.05,9e4],[2003.68,10],[2003.72,4],[2003.77,15],[2003.85,60],[2003.98,1.5e2],[2004.72,7.2],[2004.86,3],[2005.13,56],[2005.2,1.26],[2005.2,2.2],[2005.55,3.4],[2007.2,0.12],[2007.82,23],[2008.03,0.69],[2008.03,0.52],[2008.5,2.2],[2008.78,1.7],[2008.45,9.8],
[2004.5,2.6e4],[2004.62,6.3e4],[2005.0,1.5e5],[2004.85,6.2e3],[2004.95,1.05e3],[2005.13,3.5e4],[2005.2,8.1e3],[2005.27,1.15e5],[2005.34,1.9e3],[2005.48,2e4],[2005.75,3.7e5],[2005.82,6.2e3],[2005.89,1.4e3],
[2006.03,1.5e5],[2006.1,3.5e4],[2006.17,4.6e3],[2006.24,1.1e4],[2006.38,2.5e3],[2006.45,4.8e4],[2006.51,5.9e2],[2006.65,2e4],[2006.79,8.1e3],[2006.86,1.9e3],[2006.93,6.3e4],
[2007.06,2e5],[2007.13,3.2e2],[2007.2,1.1e4],[2007.27,2.6e4],[2007.41,4.6e3],[2007.48,4.8e4],[2007.55,8.1e3],[2007.61,2.5e3],[2007.68,1.05e3],[2007.75,2e4],[2007.82,1.35e2],[2007.89,6.2e3],
[2008.03,8.5e4],[2008.17,1.5e4],[2008.24,4.8e4],[2008.31,1.4e3],[2008.37,1.1e4],[2008.44,5.9e2],[2008.57,2.6e4],[2008.64,4.6e3],[2008.71,32],[2008.78,2e4],[2008.85,6.6e5],[2008.92,2.5e3],[2008.99,6.3e4],[2009.12,1.15e5],[2009.19,6.2e3],[2009.33,1.5e5],[2009.4,1.1e4],
[2009.55,1e2],[2009.55,20],[2009.55,5],[2009.55,1],[2009.55,0.15],[2009.55,0.08],[2009.55,0.05],[2009.55,0.03],[2009.55,0.02],[2009.55,0.012],[2009.55,8e-3],[2009.55,5e-3],[2009.55,1e-3],[2009.55,5e-4],[2009.55,1.5e-4],[2009.56,0.3],[2009.56,0.04],[2009.56,6e-3],
[2009.58,2e3],[2009.6,3e2],[2009.62,60],[2009.64,8e3],[2009.66,1e3],[2009.68,15],[2009.7,4e3],[2009.72,2e2],[2009.75,2e4],[2009.78,6e2],[2009.8,5e3],[2009.83,80],[2009.86,1.5e3],[2009.9,3e4],[2009.93,4e2],[2009.97,1e4],[2010.0,2.5e3],[2009.75,6e4],[2009.85,1e5],
[2010.07,4.8e4],[2010.14,1.1e4],[2010.21,2.5e3],[2010.28,2e5],[2010.34,2e4],[2010.41,1.05e3],[2010.48,6.3e4],[2010.55,4.6e3],[2010.62,3.2e2],[2010.69,2e5],[2010.76,2.8e5],[2010.83,1.1e4],[2010.9,2.5e3],[2010.07,7.9e2],[2010.14,32],[2010.17,2.5],[2010.07,0.08],[2010.34,1.7e-3],[2010.48,42],[2010.69,2.5e2],[2010.9,42],[2010.76,3.5e4],[2010.48,3.2e2],[2010.28,7.9e2],[2010.41,3.5e4],
[2011.1,56],[2011.17,6.2e3],[2011.24,4.4e2],[2011.31,2e5],[2011.38,2.6e4],[2011.45,1.05e3],[2011.52,1.1e4],[2011.58,3.5e4],[2011.65,1e2],[2011.68,23],[2011.72,2e5],[2011.86,2.8e5],[2011.79,3.4e3],[2011.93,1.5e4],[2011.03,3.5e4],
[2012.07,4.8e4],[2012.14,3.4e3],[2012.18,19],[2012.2,2.2],[2012.2,1.26],[2012.27,2e4],[2012.34,4.4e2],[2012.41,1.1e4],[2012.55,1.5e5],[2012.62,7.9e2],[2012.69,2e4],[2012.76,4.6e3],[2012.82,6.3e4],[2012.89,1.9e3],[2012.96,1.5e5],
[2013.1,1.4e3],[2013.1,2.2],[2013.17,6.6e5],[2013.17,0.69],[2013.06,0.39],[2013.24,3.4e3],[2013.31,3.5e4],[2013.38,1.5e5],[2013.44,56],[2013.51,6.2e3],[2013.58,2e4],[2013.65,4.8e4],[2013.72,1.4e3],[2013.79,1.1e4],
[2013.93,4.4e2],[2013.95,56],[2013.97,32],[2013.97,17],[2013.97,1.9],[2014.06,1.1e4],[2014.13,1.5e5],[2014.2,4.6e3],[2014.27,3.5e4],[2014.41,1.5e5],[2014.48,2.5e3],[2014.55,2e4],[2014.61,7.9e2],[2014.68,4.1],[2014.75,5.9e2],[2014.77,2.5e2],[2014.77,76],[2014.77,17],[2014.77,9.8],[2014.77,1.9],[2014.77,0.93],[2014.77,0.1],[2014.82,6.3e4],
[2015.1,1.4e3],[2015.17,1.1e4],[2015.23,7.9e2],[2015.37,2.5e3],[2015.51,1.5e4],[2015.58,1.15e5],[2015.65,6.2e3],[2015.72,2e4],[2015.79,1.35e2],[2015.85,1.5e5],[2015.9,11],[2015.9,1.5],[2015.99,2e4],
[2016.13,0.21],[2016.2,1.1e4],[2016.27,6.3e4],[2016.34,1.5e5],[2016.4,63],[2016.43,2.2],[2016.47,4.6e3],[2016.61,3.5e4],[2016.68,2.5e3],[2016.75,1.1e4],[2016.89,4.9e5],
[2017.09,6.2e3],[2017.16,2.5e3],[2017.23,1.1e4],[2017.3,1.05e3],[2017.37,56],[2017.44,1.15e5],[2017.51,1.5e5],[2017.58,2e4],[2017.64,4.4e2],[2017.71,4.6e3],[2017.85,4.8e4],[2017.92,1.4e3],
[2018.0,2e5],[2018.06,2.8e5],[2018.13,1.1e4],[2018.2,2.5e3],[2018.27,3.5e4],[2018.33,6.2e3],[2018.4,2.5e2],[2018.47,6.3e4],[2018.54,1.1e4],[2018.13,1.15e5]];
const iDense = [[2003.65,60],[2003.66,1.5e2],[2003.67,2.5e3],[2003.68,5e2],[2003.69,8e3],[2003.7,7e2],[2003.71,35],[2003.72,1.2e3],[2003.73,3.5e3],[2003.74,2.5e2],[2003.75,1.8e4],[2003.77,8e2],[2003.79,2.8e3],[2003.81,6e2],[2003.83,9e3],[2003.85,2e3],[2003.87,4.5e2],[2003.89,7e3],[2003.91,1.8e3],[2003.94,2.2e4],[2003.97,3.5e3],[2004.01,7e2],[2004.04,1.3e4],[2004.08,2.2e3],[2004.12,5.5e3],[2004.16,3.5e2],[2004.2,1.8e4],[2004.24,3.5e3],[2004.28,9e3],[2004.33,1.8e3],[2004.38,5.5e3],[2004.42,2.2e4],[2003.66,18],[2003.69,5.5],
[2003.64,2.5e2],[2003.64,35],[2003.64,4],[2003.64,0.12],[2003.64,0.018],[2003.64,5.5e-3],[2003.64,1.8e-3],[2003.65,0.7],[2003.65,0.055],[2003.65,9e-3],[2003.65,2.8e-3],[2003.66,0.28],[2003.66,0.028],
[2009.57,5.5e2],[2009.58,70],[2009.59,1.8e3],[2009.6,4.5e3],[2009.61,2.5e2],[2009.63,2.8e4],[2009.65,3.5e3],[2009.67,8e2],[2009.69,1.1e4],[2009.71,1.3e3],[2009.74,3.5e3],[2009.77,4.5e4],[2009.8,9e3],[2009.82,7e2],[2009.85,1.8e4],[2009.88,2.2e3],[2009.92,5.5e4],[2009.95,9e3],[2009.99,2.2e4],[2010.03,3.5e3],[2010.08,5.5e4],[2010.12,1.3e4],[2010.18,2.8e3],[2010.22,8.5e4],[2010.35,2.2e4],[2009.58,22],[2009.61,130],[2009.56,0.09],[2009.56,0.018],[2009.56,3e-3],
[1993.61,2.5e2],[1993.62,1.2e3],[1993.64,3.5e3],[1993.66,70],[1993.69,9e3],[1993.71,1.1e2],[1993.74,5.5e2],[1993.77,2.2e3],[1993.79,6.5e3],[1993.81,3.5e2],[1993.84,1.3e4],[1993.86,5.5e2],[1993.89,2.2e3],[1993.93,1.1e4],[1993.97,3.5e3],[1994.04,5.5e2],[1994.07,2.2e4],[1994.13,2.8e3],[1994.19,1.3e4],[1994.26,9e2],[1994.32,4.5e4]];

const FONT = '"Liberation Sans", Arial, sans-serif';
const GRID = '#b4b4b4';

function toXY(a) { return a.map(p => ({x: p[0], y: p[1]})); }

function expLabel(v) {
  var e = Math.round(Math.log10(v));
  return '1.E' + (e < 0 ? '-' : '+') + String(Math.abs(e)).padStart(2, '0');
}

function makePanel(id, pts, line, events, sizes) {
  var ctx = document.getElementById(id);
  new Chart(ctx, {
    type: 'scatter',
    data: {
      datasets: [
        {
          data: toXY(line),
          showLine: true,
          borderColor: '#ff0000',
          borderWidth: 2,
          pointRadius: 0,
          tension: 0,
          order: 0
        },
        {
          data: events.map(e => ({x: e, y: 1e-5})),
          pointStyle: 'triangle',
          pointRadius: sizes,
          backgroundColor: '#c0504d',
          borderColor: '#c0504d',
          borderWidth: 1,
          clip: false,
          order: 1
        },
        {
          data: toXY(pts),
          pointStyle: 'cross',
          pointRadius: 2,
          borderColor: 'rgba(74,126,187,0.85)',
          borderWidth: 1,
          order: 2
        }
      ]
    },
    options: {
      responsive: false,
      animation: false,
      events: [],
      layout: {padding: {left: 0, right: 18, top: 4, bottom: 16}},
      plugins: {legend: {display: false}, tooltip: {enabled: false}},
      scales: {
        x: {
          type: 'linear',
          position: 'top',
          min: 1993,
          max: 2019,
          afterBuildTicks: s => { s.ticks = yearTicks.concat([2019]).map(v => ({value: v})); },
          afterFit: s => { s.height = 26; },
          grid: {color: GRID, drawTicks: false},
          border: {display: false},
          ticks: {
            autoSkip: false, maxRotation: 45, minRotation: 45, padding: 5, labelOffset: 6,
            color: '#222', font: {size: 10, family: FONT},
            callback: v => (v <= 2018 ? String(v) : '')
          }
        },
        y: {
          type: 'logarithmic',
          min: 1e-5,
          max: 1e6,
          afterBuildTicks: s => { s.ticks = decadeTicks.map(v => ({value: v})); },
          afterFit: s => { s.width = 38; },
          grid: {color: GRID, drawTicks: false},
          border: {display: false},
          ticks: {autoSkip: false, padding: 6, color: '#222', font: {size: 9.5, family: FONT}, callback: v => expLabel(v)}
        }
      }
    }
  });
}

makePanel('cf', fPts.concat(fDense), fLine, fEvents, fEventSize);
makePanel('cg', gPts.concat(gDense), gLine, gEvents, gEventSize);
makePanel('ch', hPts, hLine, hEvents, hEventSize);
makePanel('ci', iPts.concat(iDense), iLine, iEvents, iEventSize);
</script>
</body></html>
